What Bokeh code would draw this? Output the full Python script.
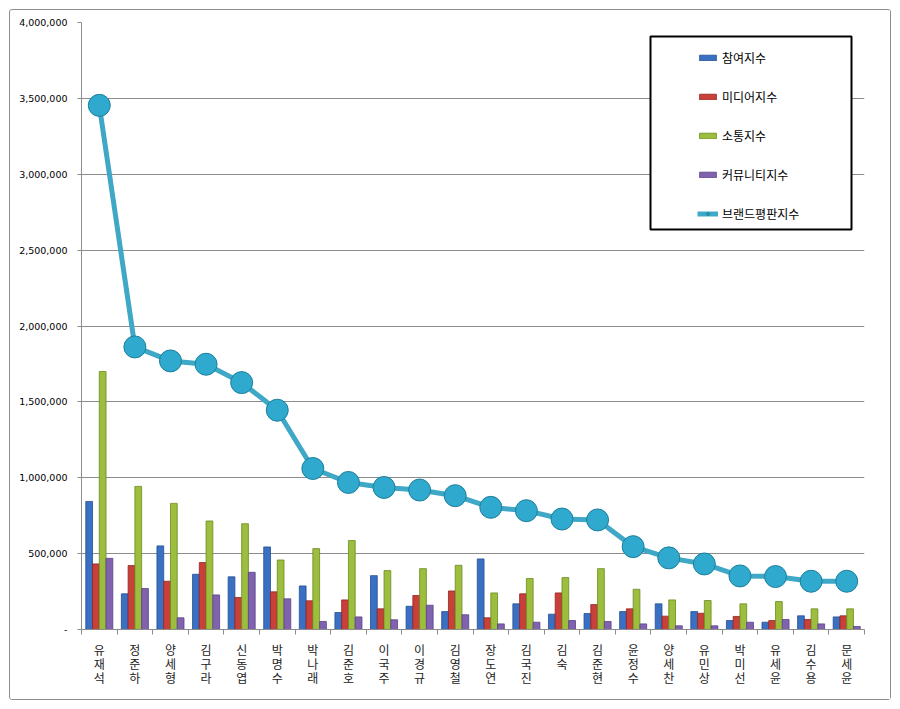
from bokeh.plotting import figure
from bokeh.layouts import column
from bokeh.models import (ColumnDataSource, Range1d, FixedTicker, NumeralTickFormatter,
                          Legend, LegendItem, BoxAnnotation)
from bokeh.transform import dodge
from bokeh.embed import file_html
from bokeh.resources import INLINE

names = ["유재석", "정준하", "양세형", "김구라", "신동엽", "박명수", "박나래", "김준호",
         "이국주", "이경규", "김영철", "장도연", "김국진", "김숙", "김준현", "윤정수",
         "양세찬", "유민상", "박미선", "유세윤", "김수용", "문세윤"]

participation = [844000, 235000, 551000, 364000, 347000, 544000, 287000, 112000,
                 355000, 153000, 118000, 465000, 169000, 101000, 105000, 118000,
                 169000, 118000, 59000, 48000, 90000, 83000]
media = [432000, 421000, 318000, 441000, 211000, 248000, 189000, 195000,
         136000, 224000, 254000, 77000, 235000, 241000, 164000, 136000,
         88000, 107000, 86000, 59000, 66000, 90000]
communication = [1700000, 943000, 831000, 715000, 697000, 458000, 533000, 586000,
                 388000, 401000, 423000, 241000, 336000, 342000, 401000, 265000,
                 195000, 191000, 169000, 184000, 136000, 136000]
community = [469000, 270000, 77000, 228000, 377000, 202000, 53000, 83000,
             64000, 160000, 97000, 37000, 48000, 59000, 53000, 37000,
             24000, 24000, 48000, 66000, 37000, 20000]
brand = [3454000, 1862000, 1770000, 1748000, 1627000, 1445000, 1061000, 969000,
         936000, 919000, 882000, 805000, 783000, 728000, 722000, 546000,
         472000, 432000, 353000, 349000, 318000, 318000]

y_ticks = [0, 500000, 1000000, 1500000, 2000000, 2500000, 3000000, 3500000, 4000000]

idx = list(range(len(names)))
src = ColumnDataSource(dict(idx=idx, name=names, p=participation, m=media,
                            c=communication, u=community, b=brand))

FONT_KR = "Noto Sans CJK KR"

p = figure(width=880, height=689, output_backend="svg", toolbar_location=None,
           x_range=Range1d(-0.5, len(names) - 0.5), y_range=Range1d(0, 4000000),
           min_border_left=71, min_border_right=26, min_border_top=12, min_border_bottom=70)
p.outline_line_color = None
p.background_fill_color = "white"
p.border_fill_color = "white"

W = 0.19
bar_specs = [("p", -0.285, "#3A70C4", "#234F8E", "참여지수"),
             ("m", -0.095, "#C9403A", "#8E2520", "미디어지수"),
             ("c", 0.095, "#9CBD3D", "#6C8A20", "소통지수"),
             ("u", 0.285, "#8062AE", "#58418A", "커뮤니티지수")]
items = []
for col, off, fill, line, label in bar_specs:
    r = p.vbar(x=dodge("idx", off, range=p.x_range), top=col, width=W, source=src,
               fill_color=fill, line_color=line, line_width=0.8)
    items.append(LegendItem(label=label, renderers=[r]))

ln = p.line(x="idx", y="b", source=src, line_color="#3FA8C6", line_width=5)
sc = p.scatter(x="idx", y="b", source=src, size=22, fill_color="#2FA9CD",
               line_color="#1E7F9C", line_width=1)
items.append(LegendItem(label="브랜드평판지수", renderers=[ln, sc]))

# Y axis
p.yaxis.ticker = FixedTicker(ticks=y_ticks)
p.yaxis.formatter = NumeralTickFormatter(format="0,0")
p.yaxis.major_label_overrides = {0: "-"}
p.yaxis.major_label_text_font = "DejaVu Sans"
p.yaxis.major_label_text_font_size = "9.5px"
p.yaxis.major_label_text_color = "black"
p.yaxis.axis_line_color = "#8c8c8c"
p.yaxis.major_tick_line_color = "#8c8c8c"
p.yaxis.major_tick_out = 4
p.yaxis.major_tick_in = 0
p.yaxis.minor_tick_line_color = None
p.yaxis.major_label_standoff = 10
p.ygrid.grid_line_color = "#8c8c8c"
p.ygrid.ticker = FixedTicker(ticks=y_ticks)
p.xgrid.grid_line_color = None

# X axis: labels at centres, ticks at category boundaries
p.xaxis.ticker = FixedTicker(ticks=idx, minor_ticks=[i - 0.5 for i in idx] + [len(idx) - 0.5])
p.xaxis.major_label_overrides = {i: "\n".join(n) for i, n in enumerate(names)}
p.xaxis.major_label_text_font = "Liberation Sans, Noto Sans CJK KR"
p.xaxis.major_label_text_font_size = "12px"
p.xaxis.major_label_text_line_height = 1.0
p.xaxis.major_label_text_color = "#222222"
p.xaxis.major_tick_out = 0
p.xaxis.major_tick_in = 0
p.xaxis.minor_tick_out = 5
p.xaxis.minor_tick_in = 0
p.xaxis.minor_tick_line_color = "#8c8c8c"
p.xaxis.axis_line_color = "#8c8c8c"
p.xaxis.major_label_standoff = 9

# Legend frame
frame_box = BoxAnnotation(left=569, right=770, top=593, bottom=400,
                          left_units="screen", right_units="screen",
                          top_units="screen", bottom_units="screen",
                          fill_color="white", fill_alpha=1.0,
                          line_color="black", line_alpha=1.0, line_width=2, level="overlay")
p.add_layout(frame_box)

legend = Legend(items=items, location=(616, 406), padding=0, margin=0,
                border_line_color=None, background_fill_alpha=0,
                glyph_width=21, glyph_height=7, label_height=20, spacing=19,
                label_standoff=4, label_text_font=FONT_KR, label_text_font_size="12px",
                label_text_color="black")
p.add_layout(legend)

page = column(p, margin=(9, 9, 9, 9),
              styles={"border": "1px solid #8c8c8c", "border-radius": "3px"})

open("out.html", "w").write(file_html(page, INLINE))
